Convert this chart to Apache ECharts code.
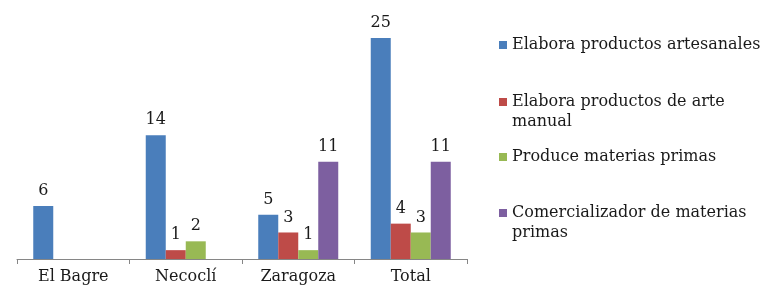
<!DOCTYPE html>
<html>
<head>
<meta charset="utf-8">
<script src="https://cdn.jsdelivr.net/npm/echarts@6/dist/echarts.min.js"></script>
<style>
  html, body { margin: 0; padding: 0; background: #fff; }
  #chart { width: 771px; height: 293px; }
</style>
</head>
<body>
<div id="chart"></div>
<script>
const categories = ["El Bagre", "Necoclí", "Zaragoza", "Total"];
const seriesNames = [
  "Elabora productos artesanales",
  "Elabora productos de arte manual",
  "Produce materias primas",
  "Comercializador de materias primas",
];
const artesanales = [6, 14, 5, 25];
const arteManual = [null, 1, 3, 4];
const produceMaterias = [null, 2, 1, 3];
const comercializador = [null, null, 11, 11];

// legend text split like the original (first line next to the swatch)
const legendFirstLines = [
  "Elabora productos artesanales",
  "Elabora productos de arte",
  "Produce materias primas",
  "Comercializador de materias",
];
const legendSecondLines = ["", "manual", "", "primas"];

const colors = ["#4A7EBB", "#BE4B48", "#98B954", "#7D5FA0"];
const legendTops = [35, 92, 147, 203];
const font = "DejaVu Serif";
const textColor = "#1a1a1a";

const chart = echarts.init(document.getElementById("chart"));

const makeSeries = (name, data, color) => ({
  name,
  type: "bar",
  data,
  barWidth: 20,
  barGap: "0%",
  itemStyle: { color },
  label: {
    show: true,
    position: "top",
    distance: 7,
    color: textColor,
    fontFamily: font,
    fontSize: 16,
  },
});

chart.setOption({
  backgroundColor: "#fff",
  animation: false,
  grid: { left: 17, right: 304, top: 38, bottom: 34 },
  legend: seriesNames.map((name, i) => ({
    data: [name],
    orient: "vertical",
    left: 499,
    top: legendTops[i],
    padding: 0,
    icon: "rect",
    itemWidth: 8,
    itemHeight: 8,
    formatter: () => legendFirstLines[i],
    textStyle: {
      fontFamily: font,
      fontSize: 16,
      color: textColor,
      lineHeight: 20,
    },
  })),
  graphic: legendSecondLines
    .map((txt, i) => ({ txt, i }))
    .filter((d) => d.txt)
    .map((d) => ({
      type: "text",
      left: 512,
      top: legendTops[d.i] + 20,
      style: {
        text: d.txt,
        fontFamily: font,
        fontSize: 16,
        lineHeight: 20,
        fill: textColor,
      },
    })),
  xAxis: {
    type: "category",
    data: categories,
    axisLine: { lineStyle: { color: "#868686", width: 1 } },
    axisTick: { show: true, length: 5, lineStyle: { color: "#868686" } },
    axisLabel: {
      margin: 10,
      color: textColor,
      fontFamily: font,
      fontSize: 16,
    },
  },
  yAxis: {
    type: "value",
    min: 0,
    max: 25,
    show: false,
    splitLine: { show: false },
  },
  series: [
    makeSeries(seriesNames[0], artesanales, colors[0]),
    makeSeries(seriesNames[1], arteManual, colors[1]),
    makeSeries(seriesNames[2], produceMaterias, colors[2]),
    makeSeries(seriesNames[3], comercializador, colors[3]),
  ],
});
</script>
</body>
</html>
